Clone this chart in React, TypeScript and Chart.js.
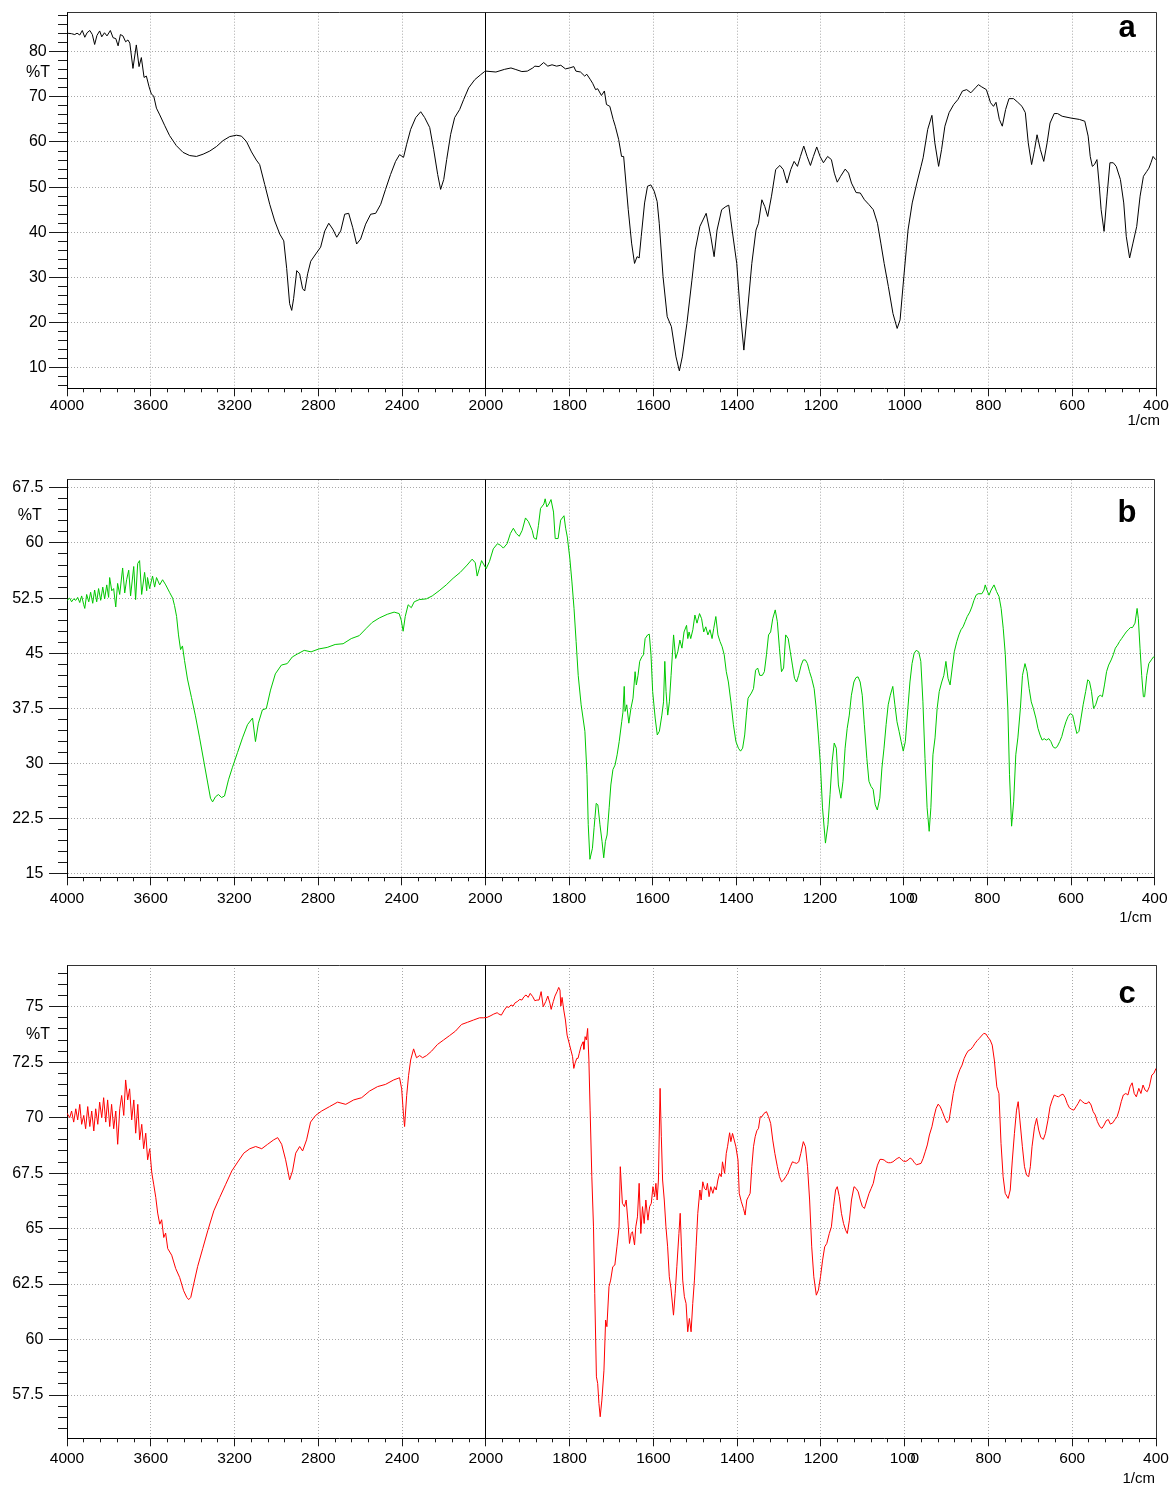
import React, { useEffect, useRef } from 'react';
import { Chart, registerables, LinearScale } from 'chart.js';

Chart.register(...registerables);

// ---------------- tick labels ----------------
const xTickLabels = [4000, 3600, 3200, 2800, 2400, 2000, 1800, 1600, 1400, 1200, 1000, 800, 600, 400];
const yTicksA = [10, 20, 30, 40, 50, 60, 70, 80];
const yTicksB = [15, 22.5, 30, 37.5, 45, 52.5, 60, 67.5];
const yTicksC = [57.5, 60, 62.5, 65, 67.5, 70, 72.5, 75];

// ---------------- spectra: [wavenumber (1/cm), %T] ----------------
const spectrumA = [
  [4000,84.1],[3979,84.0],[3963,83.8],[3952,84.1],[3939,83.7],[3927,84.7],[3915,83.2],[3904,84.2],[3891,84.7],[3879,83.8],
  [3868,81.6],[3857,83.6],[3844,84.6],[3834,83.3],[3821,84.2],[3809,83.5],[3793,84.7],[3780,83.1],[3767,82.9],[3756,81.3],
  [3745,83.8],[3733,83.5],[3720,82.2],[3709,82.6],[3700,81.9],[3685,76.3],[3669,81.5],[3656,76.7],[3645,78.7],[3632,74.3],
  [3621,74.6],[3608,72.2],[3597,70.6],[3586,70.2],[3573,67.5],[3557,66.0],[3533,63.6],[3510,61.4],[3478,59.2],[3446,57.7],
  [3414,57.0],[3382,56.8],[3350,57.3],[3318,58.0],[3286,59.0],[3255,60.3],[3223,61.2],[3191,61.5],[3167,61.3],[3143,60.1],
  [3119,57.8],[3096,56.0],[3080,55.0],[3056,50.6],[3032,46.2],[3008,42.5],[2984,39.6],[2965,38.1],[2951,32.0],[2937,24.2],
  [2927,22.7],[2918,25.3],[2903,31.5],[2889,30.8],[2875,27.5],[2865,27.0],[2851,30.8],[2836,33.6],[2812,35.2],[2789,36.7],
  [2769,40.3],[2750,42.0],[2731,40.7],[2712,38.9],[2693,40.3],[2674,44.0],[2655,44.2],[2636,41.1],[2617,37.4],[2598,38.5],
  [2574,41.8],[2550,44.0],[2526,44.2],[2502,46.2],[2479,49.5],[2455,52.8],[2431,55.7],[2412,57.2],[2393,56.6],[2378,59.5],
  [2359,62.8],[2335,65.4],[2311,66.7],[2292,65.4],[2268,63.2],[2249,58.3],[2230,52.8],[2216,49.5],[2201,51.7],[2187,56.1],
  [2168,61.7],[2149,65.4],[2125,67.2],[2106,69.4],[2082,72.0],[2053,73.8],[2025,74.9],[2006,75.6],
  [2000,75.7],[1976,75.5],[1955,76.1],[1940,76.4],[1930,76.1],[1914,75.6],[1901,75.7],[1888,76.4],[1883,76.8],[1873,76.7],
  [1862,77.6],[1852,76.8],[1842,77.1],[1831,76.8],[1821,77.0],[1810,76.2],[1800,76.4],[1790,76.7],[1785,75.7],[1774,75.5],
  [1764,74.6],[1759,75.0],[1751,73.9],[1745,73.0],[1738,71.6],[1733,71.8],[1724,70.3],[1717,71.3],[1712,68.3],[1704,67.9],
  [1696,65.0],[1691,63.5],[1683,60.6],[1676,56.8],[1671,56.8],[1660,45.0],[1652,37.6],[1645,33.1],[1639,34.6],[1634,34.3],
  [1629,39.1],[1621,46.5],[1614,50.2],[1606,50.5],[1598,49.1],[1591,46.8],[1586,42.0],[1577,30.2],[1567,21.3],[1557,19.1],
  [1546,12.4],[1538,9.3],[1531,12.4],[1520,19.8],[1508,29.4],[1500,36.1],[1489,41.3],[1474,44.2],[1463,39.1],[1455,34.6],
  [1448,40.5],[1437,45.0],[1427,45.7],[1420,46.0],[1412,40.5],[1401,33.1],[1393,22.8],[1384,13.9],[1375,22.8],[1365,33.1],
  [1355,40.5],[1349,42.0],[1341,47.2],[1334,45.7],[1327,43.5],[1318,48.0],[1308,53.9],[1298,54.8],[1290,53.9],[1281,50.9],
  [1272,53.9],[1264,55.7],[1256,54.6],[1249,56.8],[1241,59.1],[1233,56.8],[1225,54.8],[1218,56.8],[1210,58.9],[1202,56.8],
  [1194,55.4],[1184,56.8],[1175,56.1],[1168,53.1],[1161,51.1],[1153,52.4],[1142,54.0],[1134,53.1],[1127,50.9],[1116,48.8],
  [1106,48.7],[1096,47.2],[1085,46.1],[1075,45.0],[1065,42.0],[1057,37.6],[1049,33.1],[1039,28.0],[1028,22.0],[1018,18.7],
  [1011,20.6],[1002,30.2],[992,40.5],[982,46.5],[971,50.9],[961,54.6],[956,56.5],[945,62.8],[935,65.9],[928,59.8],
  [919,54.6],[912,58.3],[904,63.5],[894,66.5],[883,68.3],[873,69.4],[862,71.3],[852,71.6],[842,70.9],[831,72.0],
  [824,72.7],[816,72.2],[805,71.6],[795,68.7],[788,67.9],[782,68.8],[774,65.0],[767,63.5],[759,67.2],[751,69.6],
  [740,69.6],[730,68.8],[720,67.9],[712,66.5],[705,59.8],[697,55.0],[690,58.3],[684,61.6],[676,58.3],[668,55.7],
  [660,59.8],[653,64.2],[643,66.3],[635,66.3],[624,65.7],[603,65.3],[583,65.0],[570,64.6],[562,61.3],[557,56.8],
  [552,54.6],[547,55.0],[541,56.1],[536,50.9],[531,45.0],[524,40.2],[517,48.0],[510,55.4],[502,55.4],[495,54.6],
  [485,51.7],[477,46.5],[471,39.1],[463,34.3],[455,37.6],[446,41.3],[438,48.0],[430,52.4],[422,53.5],[417,54.2],
  [412,55.4],[407,56.8],[401,56.1],
];

const spectrumB = [
  [4000,52.2],[3987,52.5],[3978,52.0],[3968,52.4],[3958,52.2],[3949,52.6],[3939,51.9],[3930,52.8],[3920,51.6],[3915,51.1],
  [3906,53.0],[3896,52.0],[3887,53.3],[3877,51.8],[3868,53.6],[3858,52.0],[3849,53.8],[3839,52.2],[3829,54.0],[3820,52.4],
  [3810,54.3],[3801,52.6],[3796,55.3],[3786,53.5],[3777,53.8],[3767,51.3],[3758,54.5],[3748,53.0],[3734,56.6],[3724,53.2],
  [3715,55.0],[3705,56.3],[3696,52.8],[3681,56.8],[3672,52.3],[3662,57.2],[3653,57.6],[3643,53.0],[3629,56.0],[3619,53.5],
  [3615,55.3],[3605,53.8],[3591,55.5],[3581,54.0],[3572,55.3],[3557,54.3],[3543,55.0],[3528,54.3],[3510,53.3],[3495,52.5],
  [3486,51.5],[3476,50.0],[3467,47.5],[3457,45.5],[3448,46.0],[3438,44.0],[3424,41.5],[3405,39.0],[3386,36.5],[3366,33.5],
  [3347,30.5],[3328,27.5],[3314,25.3],[3304,24.8],[3290,25.5],[3276,25.8],[3261,25.4],[3247,25.6],[3228,27.8],[3209,29.5],
  [3185,31.5],[3161,33.5],[3137,35.3],[3113,36.2],[3099,33.0],[3085,35.5],[3066,37.3],[3047,37.5],[3027,40.0],[3004,42.2],
  [2975,43.4],[2947,43.6],[2923,44.5],[2899,44.9],[2866,45.4],[2833,45.2],[2795,45.6],[2756,45.8],[2718,46.2],[2680,46.3],
  [2641,47.0],[2603,47.4],[2569,48.4],[2541,49.2],[2507,49.8],[2469,50.3],[2436,50.6],[2412,50.4],[2402,49.5],[2393,48.0],
  [2383,50.0],[2369,51.6],[2354,51.2],[2340,52.0],[2316,52.3],[2282,52.4],[2254,52.8],[2221,53.5],[2187,54.3],[2154,55.2],
  [2120,56.0],[2087,57.0],[2063,57.8],[2048,57.3],[2039,55.5],[2029,56.5],[2018,57.6],
  [1998,56.5],[1990,57.5],[1981,59.2],[1971,59.9],[1964,59.7],[1957,59.3],[1948,59.9],[1940,61.3],[1933,62.0],[1926,61.3],
  [1919,60.9],[1912,61.7],[1904,63.4],[1897,62.9],[1888,61.7],[1884,60.7],[1878,60.5],[1873,62.4],[1868,64.7],[1860,65.3],
  [1857,66.0],[1853,64.9],[1848,65.3],[1843,65.9],[1837,64.2],[1833,60.6],[1826,60.6],[1820,63.1],[1816,63.4],[1812,63.7],
  [1808,62.0],[1804,60.8],[1798,57.9],[1793,54.7],[1788,51.1],[1783,46.6],[1778,42.0],[1771,38.0],[1762,34.4],[1757,28.5],
  [1754,21.7],[1750,17.0],[1744,18.5],[1740,21.3],[1735,24.6],[1731,24.4],[1726,21.7],[1721,19.4],[1717,17.2],[1713,19.4],
  [1709,20.3],[1704,24.0],[1700,27.1],[1695,29.2],[1690,29.8],[1685,31.2],[1680,33.0],[1674,35.7],[1671,37.0],[1668,40.5],
  [1666,37.1],[1662,38.0],[1657,35.5],[1652,37.5],[1647,38.9],[1642,42.5],[1639,40.7],[1635,42.0],[1631,43.9],[1626,44.5],
  [1622,44.8],[1618,47.0],[1612,47.5],[1608,47.6],[1604,44.8],[1600,39.8],[1594,36.2],[1589,33.9],[1584,34.4],[1578,36.6],
  [1574,38.4],[1571,43.9],[1568,39.8],[1564,36.6],[1560,38.4],[1556,42.0],[1550,47.5],[1545,44.3],[1540,45.2],[1535,46.8],
  [1530,45.7],[1525,47.9],[1519,48.8],[1516,47.0],[1513,47.9],[1509,47.0],[1504,48.2],[1499,50.2],[1494,49.1],[1488,50.4],
  [1483,49.7],[1478,47.9],[1473,48.6],[1468,47.5],[1463,48.2],[1458,47.0],[1454,48.4],[1449,50.0],[1444,47.5],[1439,46.6],
  [1434,45.9],[1429,44.8],[1424,42.5],[1419,41.1],[1413,38.4],[1407,35.3],[1401,33.0],[1395,32.1],[1390,31.7],[1385,32.1],
  [1380,33.9],[1376,36.6],[1372,38.9],[1364,39.6],[1359,40.2],[1354,42.7],[1349,43.0],[1344,42.0],[1338,42.0],[1333,42.5],
  [1328,44.8],[1323,47.5],[1318,47.9],[1313,49.7],[1307,50.9],[1302,49.3],[1297,45.7],[1292,42.5],[1287,43.0],[1282,47.5],
  [1276,47.0],[1271,45.2],[1266,43.4],[1261,41.6],[1256,41.1],[1251,42.0],[1245,43.4],[1240,44.1],[1235,44.1],[1230,43.6],
  [1225,42.5],[1220,41.6],[1214,40.2],[1209,37.5],[1204,33.9],[1199,29.8],[1194,24.0],[1187,19.2],[1181,21.7],[1176,25.8],
  [1171,30.3],[1166,32.8],[1161,32.1],[1156,27.1],[1150,25.3],[1145,27.6],[1140,32.1],[1135,34.8],[1130,36.6],[1125,39.3],
  [1119,41.1],[1114,41.7],[1109,41.8],[1104,41.1],[1099,39.3],[1094,35.3],[1088,30.7],[1083,27.6],[1078,26.9],[1073,26.5],
  [1068,24.4],[1063,23.7],[1057,25.3],[1052,29.4],[1047,32.1],[1042,35.3],[1037,38.0],[1032,39.3],[1026,40.5],[1021,38.0],
  [1016,35.7],[1011,34.4],[1006,33.0],[1001,31.7],[996,33.0],[990,37.5],[985,41.1],[980,43.6],[975,45.0],[970,45.4],
  [964,45.2],[959,43.9],[954,38.4],[949,30.7],[944,24.0],[939,20.8],[935,24.0],[930,31.2],[925,33.5],[920,37.5],
  [915,39.8],[909,41.1],[904,42.0],[899,43.9],[894,41.6],[889,40.7],[884,43.0],[879,45.2],[873,46.6],[868,47.5],
  [863,48.2],[858,48.6],[853,49.3],[848,50.0],[842,50.6],[837,51.3],[832,52.2],[827,52.9],[822,53.1],[813,53.1],
  [808,53.6],[805,54.3],[801,53.6],[796,52.9],[791,53.6],[784,54.3],[778,53.4],[772,52.7],[767,51.1],[762,48.4],
  [757,44.8],[751,37.5],[747,28.5],[742,21.5],[737,24.9],[732,31.2],[727,33.5],[721,37.5],[716,42.0],[710,43.6],
  [705,42.5],[700,40.2],[695,38.4],[690,37.5],[684,36.2],[679,34.8],[674,33.9],[669,33.2],[664,33.4],[659,33.2],
  [653,33.4],[648,33.0],[643,32.3],[638,32.1],[633,32.3],[627,33.0],[622,33.7],[617,34.8],[612,35.7],[607,36.4],
  [602,36.8],[596,36.6],[591,35.3],[586,34.1],[581,34.4],[576,36.2],[571,38.0],[565,39.8],[560,41.4],[556,41.2],
  [551,39.8],[546,37.5],[541,38.0],[535,39.1],[530,39.3],[525,39.1],[520,40.7],[515,42.5],[510,43.4],[504,44.1],
  [499,44.8],[494,45.7],[489,46.1],[484,46.6],[479,47.0],[473,47.5],[468,47.9],[463,48.2],[458,48.5],[453,48.5],
  [447,49.1],[442,51.1],[439,49.7],[435,45.7],[431,42.0],[427,39.1],[424,39.1],[419,42.0],[414,43.6],[408,44.1],
  [403,44.5],[400,44.5],
];

const spectrumC = [
  [4000,70.2],[3987,70.0],[3978,70.3],[3968,69.8],[3958,70.4],[3949,69.9],[3939,70.6],[3930,69.7],[3920,70.1],[3911,69.5],
  [3901,70.5],[3891,69.6],[3882,70.3],[3872,69.4],[3863,70.4],[3853,69.7],[3844,70.7],[3834,70.0],[3825,70.9],[3815,69.8],
  [3806,70.8],[3796,69.6],[3787,70.6],[3777,69.5],[3767,70.3],[3758,68.8],[3748,70.4],[3739,71.0],[3729,70.1],[3720,71.7],
  [3710,70.8],[3701,71.3],[3691,69.9],[3681,70.8],[3672,69.3],[3662,70.6],[3653,69.0],[3643,69.7],[3634,68.6],[3624,69.3],
  [3615,68.1],[3605,68.6],[3595,67.5],[3586,67.0],[3576,66.4],[3567,65.7],[3557,65.2],[3548,65.4],[3538,64.6],[3529,64.8],
  [3519,64.1],[3500,63.8],[3481,63.2],[3462,62.8],[3443,62.2],[3428,61.9],[3419,61.8],[3409,61.9],[3395,62.5],[3376,63.3],
  [3352,64.1],[3328,64.9],[3299,65.8],[3271,66.4],[3242,67.0],[3213,67.6],[3185,68.0],[3156,68.4],[3127,68.6],[3099,68.7],
  [3070,68.6],[3042,68.8],[3013,69.0],[2994,69.1],[2975,68.8],[2956,68.1],[2937,67.2],[2923,67.6],[2908,68.4],[2889,68.7],
  [2875,68.5],[2856,69.0],[2837,69.8],[2813,70.1],[2784,70.3],[2746,70.5],[2708,70.7],[2669,70.6],[2631,70.8],[2593,70.9],
  [2555,71.2],[2517,71.4],[2479,71.5],[2440,71.7],[2412,71.8],[2402,71.3],[2393,70.1],[2388,69.6],[2378,71.0],[2369,71.9],
  [2359,72.6],[2345,73.1],[2331,72.7],[2316,72.8],[2302,72.7],[2283,72.8],[2259,73.0],[2231,73.3],[2202,73.5],[2173,73.7],
  [2145,73.9],[2116,74.2],[2087,74.3],[2059,74.4],[2030,74.5],[2012,74.5],
  [1997,74.52],[1990,74.58],[1981,74.67],[1973,74.73],[1969,74.67],[1963,74.62],[1956,74.85],[1950,75.0],[1945,74.97],[1940,75.08],
  [1935,75.03],[1930,75.18],[1925,75.23],[1919,75.33],[1914,75.3],[1909,75.45],[1904,75.53],[1899,75.42],[1894,75.6],[1888,75.45],
  [1883,75.27],[1878,75.3],[1873,75.3],[1868,75.68],[1863,75.0],[1857,75.23],[1852,75.48],[1847,75.15],[1844,74.88],[1839,75.23],
  [1835,75.48],[1830,75.68],[1826,75.87],[1823,75.75],[1821,75.03],[1818,75.42],[1814,74.85],[1810,74.4],[1806,73.72],[1801,73.35],
  [1797,73.05],[1793,72.75],[1790,72.22],[1787,72.45],[1783,72.67],[1780,72.67],[1777,72.9],[1773,73.2],[1768,73.42],[1766,73.08],
  [1763,73.65],[1760,73.5],[1757,74.02],[1754,72.6],[1751,70.34],[1747,67.34],[1743,65.08],[1740,62.08],[1736,58.32],[1733,58.02],
  [1730,57.12],[1727,56.52],[1723,57.27],[1718,58.62],[1714,60.88],[1711,60.58],[1706,62.38],[1702,62.68],[1697,63.28],[1692,63.36],
  [1687,64.18],[1682,65.08],[1679,67.79],[1674,66.14],[1669,65.99],[1665,66.29],[1661,65.38],[1657,64.33],[1653,64.78],[1650,64.86],
  [1645,64.26],[1642,65.08],[1638,65.53],[1634,67.04],[1630,64.78],[1626,65.99],[1622,65.23],[1618,66.29],[1613,65.38],[1609,65.99],
  [1605,66.14],[1601,66.89],[1597,66.44],[1594,67.04],[1591,66.29],[1588,67.19],[1584,71.32],[1581,69.14],[1578,67.19],[1574,66.29],
  [1570,65.08],[1566,64.18],[1562,62.83],[1558,62.3],[1552,61.1],[1548,62.08],[1544,63.28],[1539,64.78],[1536,65.69],[1533,64.18],
  [1530,62.68],[1526,61.93],[1522,61.63],[1518,60.35],[1514,60.95],[1510,60.35],[1506,61.63],[1502,62.68],[1498,64.18],[1494,65.69],
  [1489,66.74],[1486,66.29],[1482,67.11],[1478,66.81],[1474,66.74],[1471,67.04],[1467,66.44],[1463,66.89],[1458,66.59],[1454,66.89],
  [1450,66.74],[1446,67.19],[1442,67.49],[1438,67.34],[1435,68.01],[1430,67.49],[1426,68.39],[1423,68.69],[1418,69.32],[1415,68.92],
  [1411,69.29],[1407,68.99],[1403,68.69],[1398,68.09],[1395,66.59],[1390,66.21],[1385,65.91],[1381,65.61],[1377,66.29],[1373,66.44],
  [1369,66.59],[1365,67.79],[1361,68.69],[1357,69.14],[1353,69.41],[1349,69.52],[1345,70.04],[1341,70.04],[1336,70.19],[1330,70.27],
  [1325,70.04],[1320,69.74],[1315,68.99],[1310,68.39],[1304,67.79],[1299,67.34],[1294,67.11],[1289,67.19],[1284,67.34],[1279,67.49],
  [1273,67.79],[1268,68.01],[1263,67.97],[1258,67.94],[1253,68.01],[1248,68.39],[1242,68.92],[1237,68.69],[1232,67.79],[1227,66.29],
  [1222,64.18],[1217,62.83],[1211,62.0],[1206,62.23],[1201,62.83],[1196,63.58],[1191,64.18],[1186,64.33],[1180,64.78],[1175,65.08],
  [1170,65.99],[1165,66.74],[1161,66.89],[1156,66.44],[1151,65.69],[1146,65.23],[1141,64.93],[1137,64.78],[1132,65.38],[1127,66.29],
  [1121,66.89],[1116,66.81],[1111,66.66],[1106,66.29],[1101,65.99],[1096,65.91],[1090,66.29],[1085,66.59],[1080,66.81],[1075,67.04],
  [1070,67.49],[1065,67.86],[1059,68.12],[1054,68.12],[1049,68.09],[1044,68.01],[1039,67.97],[1034,67.97],[1028,68.01],[1023,68.09],
  [1018,68.16],[1013,68.21],[1008,68.12],[1003,68.04],[997,68.03],[992,68.09],[987,68.18],[982,68.12],[977,67.97],[972,67.88],
  [966,67.91],[961,67.94],[956,68.16],[951,68.46],[946,68.77],[941,69.22],[935,69.59],[930,70.04],[925,70.42],[920,70.61],
  [915,70.49],[910,70.27],[904,69.97],[899,69.77],[894,69.89],[889,70.49],[884,71.09],[879,71.54],[873,71.92],[868,72.18],
  [863,72.37],[858,72.67],[853,72.87],[848,73.02],[842,73.08],[837,73.2],[832,73.35],[827,73.47],[822,73.57],[817,73.68],
  [811,73.8],[806,73.77],[801,73.62],[796,73.5],[791,73.27],[786,72.6],[780,71.39],[775,71.09],[770,68.84],[765,67.34],
  [760,66.59],[753,66.36],[748,66.74],[743,68.09],[738,69.29],[733,70.34],[729,70.72],[725,69.89],[719,68.69],[714,67.79],
  [709,67.41],[704,67.34],[700,67.79],[696,68.69],[690,69.59],[685,69.97],[680,69.44],[675,69.11],[669,69.02],[664,69.29],
  [658,69.89],[653,70.49],[648,70.79],[643,71.02],[638,70.97],[633,70.94],[627,71.02],[622,71.06],[617,70.91],[612,70.64],
  [607,70.45],[601,70.37],[596,70.34],[591,70.49],[586,70.64],[581,70.82],[576,70.72],[570,70.64],[565,70.64],[560,70.72],
  [555,70.57],[550,70.27],[545,70.12],[540,69.82],[534,69.59],[529,69.52],[524,69.67],[519,69.86],[514,69.92],[509,69.71],
  [503,69.77],[498,69.92],[493,70.04],[488,70.34],[483,70.72],[478,71.02],[472,71.09],[467,71.02],[462,71.39],[457,71.57],
  [452,71.09],[447,70.94],[441,71.32],[436,71.09],[431,71.47],[426,71.24],[421,71.17],[416,71.39],[410,71.92],[405,72.0],
  [400,72.22],
];

// ---------------- wavenumber axis: 4000-2000 drawn at half the scale of 2000-400 ----------------
const SPLIT = 2000;
function wavenumberToUnit(w: number): number {
  return w >= SPLIT ? (4000 - w) / 400 : 5 + (SPLIT - w) / 200;
}
function unitToWavenumber(u: number): number {
  return u <= 5 ? 4000 - u * 400 : SPLIT - (u - 5) * 200;
}

class WavenumberScale extends LinearScale {
  static id = 'wavenumber';
  static defaults = {};
  getPixelForValue(value: number) {
    if (value === null || value === undefined || isNaN(value)) return NaN;
    return super.getPixelForValue(wavenumberToUnit(value));
  }
  getValueForPixel(pixel: number) {
    return unitToWavenumber(super.getValueForPixel(pixel));
  }
}
Chart.register(WavenumberScale);

const FONT = "'Liberation Sans', Arial, Helvetica, sans-serif";
const X_LABEL_SIZE = 15.5;
const X_TICK_LEN = 8;

function xMinorTicks(): number[] {
  const out: number[] = [];
  for (let i = 0; i < xTickLabels.length - 1; i++) {
    const a = xTickLabels[i];
    const b = xTickLabels[i + 1];
    for (let j = 1; j < 5; j++) out.push(a + ((b - a) * j) / 5);
  }
  return out;
}

function yMinorTicks(ticks: number[], min: number, max: number): number[] {
  const step = (ticks[1] - ticks[0]) / 5;
  const out: number[] = [];
  const k0 = Math.ceil((min - ticks[0]) / step - 1e-9);
  for (let k = k0; ticks[0] + k * step <= max + 1e-9; k++) {
    if (((k % 5) + 5) % 5 !== 0) out.push(ticks[0] + k * step);
  }
  return out;
}

type PanelCfg = {
  letter: string;
  data: number[][];
  color: string;
  yTicks: number[];
  yMin: number;
  yMax: number;
  top: number;
  height: number;
  padTop: number;
  xAxisH: number;
  yLabelPad: number;
  xLabelPad: number;
  letterDy: number;
  pctValue: number;
  pctRight: number;
  cmRight: number;
  cmDy: number;
  mergedThousand: boolean;
};

const panels: PanelCfg[] = [
  {
    letter: 'a', data: spectrumA, color: '#000000', yTicks: yTicksA, yMin: 5.44, yMax: 88.64,
    top: 0, height: 440, padTop: 12.7, xAxisH: 51.7, yLabelPad: 2.3, xLabelPad: 0,
    letterDy: 24.6, pctValue: 75.4, pctRight: 50, cmRight: 1160, cmDy: 32.7, mergedThousand: false,
  },
  {
    letter: 'b', data: spectrumB, color: '#00c800', yTicks: yTicksB, yMin: 14.55, yMax: 68.6,
    top: 460, height: 480, padTop: 19.7, xAxisH: 62.7, yLabelPad: 5.7, xLabelPad: 4.4,
    letterDy: 42, pctValue: 63.75, pctRight: 41.7, cmRight: 1151.7, cmDy: 40.2, mergedThousand: true,
  },
  {
    letter: 'c', data: spectrumC, color: '#ff0000', yTicks: yTicksC, yMin: 55.55, yMax: 76.88,
    top: 945, height: 542, padTop: 20, xAxisH: 48.7, yLabelPad: 5.7, xLabelPad: 2.7,
    letterDy: 38, pctValue: 73.75, pctRight: 50, cmRight: 1155, cmDy: 40.4, mergedThousand: true,
  },
];

function makeDecor(cfg: PanelCfg) {
  const xMinor = xMinorTicks();
  const yMinor = yMinorTicks(cfg.yTicks, cfg.yMin, cfg.yMax);
  const al = (p: number) => Math.round(p - 0.5) + 0.5;
  return {
    id: 'irDecor',
    beforeDatasetsDraw(chart: any) {
      const { ctx, chartArea } = chart;
      const { left, right, top, bottom } = chartArea;
      const xs = chart.scales.x;
      const ys = chart.scales.y;
      ctx.save();
      ctx.lineWidth = 1;
      ctx.setLineDash([]);
      // frame (top and right)
      ctx.strokeStyle = '#333333';
      ctx.beginPath();
      ctx.moveTo(al(left), al(top));
      ctx.lineTo(al(right), al(top));
      ctx.lineTo(al(right), al(bottom));
      ctx.stroke();
      // scale change line at 2000
      const xSplit = al(xs.getPixelForValue(SPLIT));
      ctx.strokeStyle = '#000000';
      ctx.beginPath();
      ctx.moveTo(xSplit, top);
      ctx.lineTo(xSplit, bottom);
      ctx.stroke();
      // minor ticks
      ctx.strokeStyle = '#1a1a1a';
      ctx.beginPath();
      for (const w of xMinor) {
        const px = al(xs.getPixelForValue(w));
        ctx.moveTo(px, bottom);
        ctx.lineTo(px, bottom + 4);
      }
      for (const v of yMinor) {
        const py = al(ys.getPixelForValue(v));
        ctx.moveTo(left - 9, py);
        ctx.lineTo(left, py);
      }
      ctx.stroke();
      ctx.restore();
    },
    afterDraw(chart: any) {
      const { ctx, chartArea } = chart;
      const { top, bottom } = chartArea;
      const xs = chart.scales.x;
      const ys = chart.scales.y;
      ctx.save();
      ctx.fillStyle = '#000000';
      ctx.font = `16px ${FONT}`;
      ctx.textAlign = 'right';
      ctx.textBaseline = 'middle';
      ctx.fillText('%T', cfg.pctRight, ys.getPixelForValue(cfg.pctValue));
      ctx.font = `15px ${FONT}`;
      ctx.fillText('1/cm', cfg.cmRight, bottom + cfg.cmDy);
      ctx.font = `bold 31px ${FONT}`;
      ctx.textAlign = 'center';
      ctx.textBaseline = 'alphabetic';
      ctx.fillText(cfg.letter, 1127, top + cfg.letterDy);
      if (cfg.mergedThousand) {
        const px = xs.getPixelForValue(1000);
        const ly = bottom + X_TICK_LEN + cfg.xLabelPad + 0.6 * X_LABEL_SIZE;
        ctx.font = `${X_LABEL_SIZE}px ${FONT}`;
        ctx.textAlign = 'left';
        ctx.textBaseline = 'middle';
        ctx.fillText('100', px - 15, ly);
        ctx.fillText('0', px + 5.7, ly);
      }
      ctx.restore();
    },
  };
}

function Spectrum({ cfg }: { cfg: PanelCfg }) {
  const ref = useRef<HTMLCanvasElement>(null);
  useEffect(() => {
    if (!ref.current) return;
    const chart = new Chart(ref.current, {
      type: 'line',
      data: {
        datasets: [
          {
            data: cfg.data.map(([w, t]) => ({ x: w, y: t })),
            borderColor: cfg.color,
            borderWidth: 1,
            pointRadius: 0,
            tension: 0,
            fill: false,
          },
        ],
      },
      options: {
        animation: false,
        responsive: false,
        maintainAspectRatio: false,
        events: [],
        layout: { padding: { top: cfg.padTop, right: 16, left: 0, bottom: 0 } },
        plugins: { legend: { display: false }, tooltip: { enabled: false }, title: { display: false } },
        scales: {
          x: {
            type: 'wavenumber' as any,
            position: 'bottom',
            min: 0,
            max: 13,
            bounds: 'data',
            afterBuildTicks: (s: any) => {
              s.ticks = xTickLabels.map((v) => ({ value: v }));
            },
            afterFit: (s: any) => {
              s.height = cfg.xAxisH;
            },
            grid: {
              color: '#a8a8a8',
              lineWidth: 1,
              drawTicks: true,
              tickLength: X_TICK_LEN,
              tickColor: '#1a1a1a',
              tickWidth: 1,
              tickBorderDash: [],
            },
            border: { display: true, color: '#000000', width: 1, dash: [1, 2] },
            ticks: {
              autoSkip: false,
              maxRotation: 0,
              minRotation: 0,
              padding: cfg.xLabelPad,
              color: '#000000',
              font: { family: FONT, size: X_LABEL_SIZE },
              callback: (v: any) => (cfg.mergedThousand && Number(v) === 1000 ? '' : String(v)),
            },
          } as any,
          y: {
            type: 'linear',
            position: 'left',
            min: cfg.yMin,
            max: cfg.yMax,
            afterBuildTicks: (s: any) => {
              s.ticks = cfg.yTicks.map((v) => ({ value: v }));
            },
            afterFit: (s: any) => {
              s.width = 67;
            },
            grid: {
              color: '#a8a8a8',
              lineWidth: 1,
              drawTicks: true,
              tickLength: 18,
              tickColor: '#1a1a1a',
              tickWidth: 1,
              tickBorderDash: [],
            },
            border: { display: true, color: '#000000', width: 1, dash: [1, 2] },
            ticks: {
              autoSkip: false,
              padding: cfg.yLabelPad,
              color: '#000000',
              font: { family: FONT, size: 16 },
              callback: (v: any) => String(v),
            },
          } as any,
        },
      },
      plugins: [makeDecor(cfg)],
    } as any);
    return () => chart.destroy();
  }, [cfg]);
  return (
    <canvas
      ref={ref}
      width={1172}
      height={cfg.height}
      style={{ position: 'absolute', left: 0, top: cfg.top, width: 1172, height: cfg.height }}
    />
  );
}

export default function App() {
  return (
    <div style={{ position: 'absolute', left: 0, top: 0, width: 1172, height: 1487, background: '#ffffff' }}>
      {panels.map((p) => (
        <Spectrum key={p.letter} cfg={p} />
      ))}
    </div>
  );
}
